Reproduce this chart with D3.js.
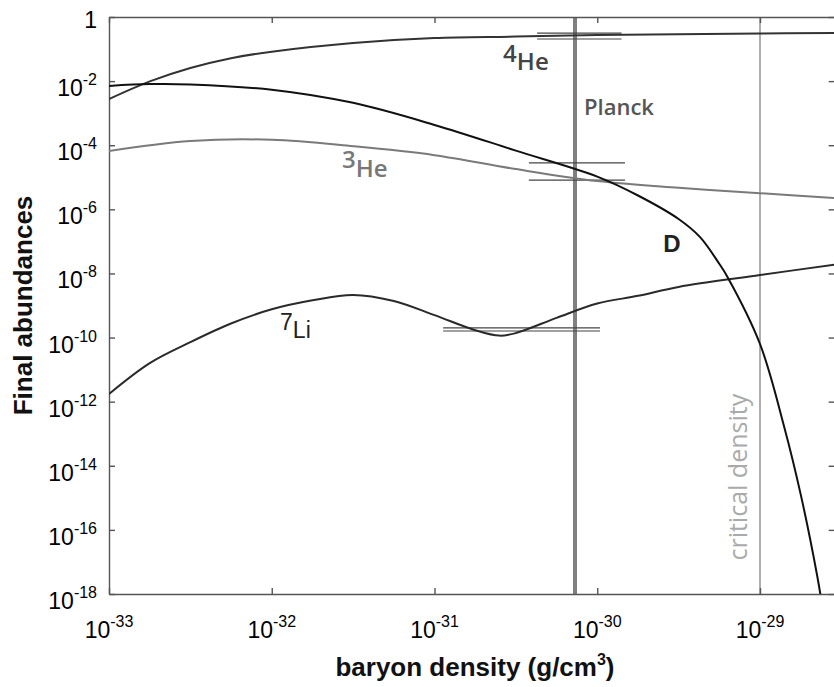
<!DOCTYPE html>
<html>
<head>
<meta charset="utf-8">
<script src="https://cdn.jsdelivr.net/npm/d3@7"></script>
<style>
  body { margin: 0; background: #fff; }
  svg { display: block; }
</style>
</head>
<body>
<svg id="chart" width="834" height="687"></svg>
<script>
'use strict';

// series: [baryon density g/cm^3, final abundance]
const he4 = [[1e-33, 2.75e-3], [1.78e-33, 9.8e-3], [3.16e-33, 2.57e-2], [5.62e-33, 5.2e-2],
  [1e-32, 8.3e-2], [3.16e-32, 0.155], [1e-31, 0.221], [3.16e-31, 0.245], [1e-30, 0.275],
  [1e-29, 0.305], [3e-29, 0.316]];
const deut = [[1e-33, 7.1e-3], [1.78e-33, 8.1e-3], [3.16e-33, 7.9e-3], [1e-32, 5.4e-3],
  [3.16e-32, 2.1e-3], [1e-31, 4.3e-4], [3.16e-31, 6.8e-5], [1e-30, 1.05e-5], [1.78e-30, 2.7e-6],
  [3.16e-30, 5e-7], [4.27e-30, 1.38e-7], [5.62e-30, 2e-8], [6.3e-30, 7.9e-9], [1e-29, 6.3e-11],
  [1.41e-29, 1.6e-13], [1.78e-29, 1.26e-15], [2.24e-29, 4e-18], [2.4e-29, 5e-19]];
const he3 = [[1e-33, 6.6e-5], [3.16e-33, 1.35e-4], [1e-32, 1.48e-4], [3.16e-32, 9.3e-5],
  [1e-31, 4.9e-5], [3.16e-31, 1.8e-5], [1e-30, 7.6e-6], [3.16e-30, 4.7e-6], [1e-29, 3.2e-6],
  [3e-29, 2.2e-6]];
const li7 = [[1e-33, 1.74e-12], [1.78e-33, 1.6e-11], [3.16e-33, 7.2e-11], [5.62e-33, 2.75e-10],
  [1e-32, 7.6e-10], [1.78e-32, 1.45e-9], [3.16e-32, 2.14e-9], [5.62e-32, 1.38e-9], [1e-31, 5e-10],
  [1.78e-31, 1.7e-10], [2.5e-31, 1.15e-10], [3.16e-31, 1.38e-10], [5.62e-31, 4.1e-10],
  [1e-30, 1.15e-9], [1.78e-30, 2e-9], [3.16e-30, 3.8e-9], [1e-29, 8.9e-9], [3e-29, 1.95e-8]];

// observed bounds: [density from, density to, abundance]
const obsBounds = [
  [4.27e-31, 1.41e-30, 0.316], [4.27e-31, 1.41e-30, 0.206],
  [3.8e-31, 1.48e-30, 2.8e-5], [3.8e-31, 1.48e-30, 8.2e-6],
  [1.13e-31, 1.04e-30, 2.0e-10], [1.13e-31, 1.04e-30, 1.6e-10]
];
const planckDensity = 7.3e-31;
const criticalDensity = 1e-29;

const xTicks = [1e-33, 1e-32, 1e-31, 1e-30, 1e-29];
const xTickExps = ["-33", "-32", "-31", "-30", "-29"];
const yTicks = [1, 1e-2, 1e-4, 1e-6, 1e-8, 1e-10, 1e-12, 1e-14, 1e-16, 1e-18];
const yTickExps = ["", "-2", "-4", "-6", "-8", "-10", "-12", "-14", "-16", "-18"];

const svg = d3.select("#chart");
const plotLeft = 109, plotTop = 17, plotBottom = 594;
const decade = 162.75;

const x = d3.scaleLog().domain([1e-33, 3e-29])
  .range([plotLeft, plotLeft + decade * Math.log10(3e-29 / 1e-33)]);
const y = d3.scaleLog().domain([1e-18, 1]).range([plotBottom, plotTop]);
const plotRight = x.range()[1];

svg.append("rect").attr("width", 834).attr("height", 687).attr("fill", "#fff");

svg.append("clipPath").attr("id", "plot")
  .append("rect").attr("x", plotLeft).attr("y", plotTop)
  .attr("width", plotRight - plotLeft).attr("height", plotBottom - plotTop);

// reference lines
svg.append("line")
  .attr("x1", x(planckDensity)).attr("x2", x(planckDensity))
  .attr("y1", plotTop).attr("y2", plotBottom)
  .attr("stroke", "#808080").attr("stroke-width", 4);
svg.append("line")
  .attr("x1", x(criticalDensity)).attr("x2", x(criticalDensity))
  .attr("y1", plotTop).attr("y2", plotBottom)
  .attr("stroke", "#9a9a9a").attr("stroke-width", 1.6);

// axes (ticks inward, box style)
const fmt = () => "";
const axisStyle = (g) => {
  g.selectAll("path, line").attr("stroke", "#555").attr("stroke-width", 1.4);
  g.selectAll("text").remove();
};
svg.append("g").attr("transform", `translate(0,${plotBottom})`)
  .call(d3.axisBottom(x).tickValues(xTicks).tickFormat(fmt).tickSizeInner(-6).tickSizeOuter(0))
  .call(axisStyle);
svg.append("g").attr("transform", `translate(0,${plotTop})`)
  .call(d3.axisTop(x).tickValues(xTicks).tickFormat(fmt).tickSizeInner(-6).tickSizeOuter(0))
  .call(axisStyle);
svg.append("g").attr("transform", `translate(${plotLeft},0)`)
  .call(d3.axisLeft(y).tickValues(yTicks).tickFormat(fmt).tickSizeInner(-6).tickSizeOuter(0))
  .call(axisStyle);
svg.append("g").attr("transform", `translate(${plotRight - 3},0)`)
  .call(d3.axisRight(y).tickValues(yTicks).tickFormat(fmt).tickSizeInner(-6).tickSizeOuter(0))
  .call(axisStyle);

// observed bound bars
svg.append("g").selectAll("line").data(obsBounds).join("line")
  .attr("x1", d => x(d[0])).attr("x2", d => x(d[1]))
  .attr("y1", d => y(d[2])).attr("y2", d => y(d[2]))
  .attr("stroke", "#444").attr("stroke-width", 1.2);

// curves
const line = d3.line().x(d => x(d[0])).y(d => y(d[1])).curve(d3.curveCatmullRom.alpha(0.5));
const curves = svg.append("g").attr("clip-path", "url(#plot)").attr("fill", "none");
curves.append("path").attr("d", line(he3)).attr("stroke", "#7a7a7a").attr("stroke-width", 2);
curves.append("path").attr("d", line(he4)).attr("stroke", "#333").attr("stroke-width", 2);
curves.append("path").attr("d", line(li7)).attr("stroke", "#2a2a2a").attr("stroke-width", 2);
curves.append("path").attr("d", line(deut)).attr("stroke", "#111").attr("stroke-width", 2);

// tick labels
const numFont = "'Liberation Sans', Arial, sans-serif";
const xl = svg.append("g").attr("font-family", numFont).attr("fill", "#000");
xTicks.forEach((t, i) => {
  const txt = xl.append("text").attr("x", x(t)).attr("y", 638)
    .attr("text-anchor", "middle").attr("font-size", 23);
  txt.append("tspan").text("10");
  txt.append("tspan").attr("dy", -11).attr("font-size", 16).text(xTickExps[i]);
});
yTicks.forEach((t, i) => {
  if (yTickExps[i] === "") {
    xl.append("text").attr("x", 97).attr("y", y(t) + 11)
      .attr("text-anchor", "end").attr("font-size", 23).text("1");
    return;
  }
  const txt = xl.append("text").attr("x", 97).attr("y", y(t) + 15)
    .attr("text-anchor", "end").attr("font-size", 23);
  txt.append("tspan").text("10");
  txt.append("tspan").attr("dy", -11).attr("font-size", 16).text(yTickExps[i]);
});

// axis titles
svg.append("text")
  .attr("transform", `translate(32,${(plotTop + plotBottom) / 2}) rotate(-90)`)
  .attr("text-anchor", "middle").attr("font-family", numFont)
  .attr("font-weight", "bold").attr("font-size", 26).attr("fill", "#111")
  .text("Final abundances");
const xt = svg.append("text").attr("x", 475).attr("y", 676)
  .attr("text-anchor", "middle").attr("font-family", numFont)
  .attr("font-weight", "bold").attr("font-size", 26).attr("fill", "#111");
xt.append("tspan").text("baryon density (g/cm");
xt.append("tspan").attr("dy", -11).attr("font-size", 16).text("3");
xt.append("tspan").attr("dy", 11).text(")");

// curve annotations
const labFont = "'Open Sans', sans-serif";
const he4Lab = svg.append("text").attr("x", x(2.64e-31)).attr("y", y(0.022))
  .attr("font-family", labFont).attr("font-weight", 600).attr("font-size", 24).attr("fill", "#444");
he4Lab.append("tspan").attr("dy", -8).text("4");
he4Lab.append("tspan").attr("dy", 8).text("He");

const he3Lab = svg.append("text").attr("x", x(2.7e-32)).attr("y", y(1.02e-5))
  .attr("font-family", labFont).attr("font-weight", 600).attr("font-size", 24).attr("fill", "#777");
he3Lab.append("tspan").attr("dy", -9).text("3");
he3Lab.append("tspan").attr("dy", 9).text("He");

const li7Lab = svg.append("text").attr("x", x(1.125e-32)).attr("y", y(9.6e-11))
  .attr("font-family", numFont).attr("font-size", 23).attr("fill", "#222");
li7Lab.append("tspan").attr("dy", -8).text("7");
li7Lab.append("tspan").attr("dy", 8).text("Li");

svg.append("text").attr("x", x(2.54e-30)).attr("y", y(4.65e-8))
  .attr("font-family", numFont).attr("font-weight", "bold").attr("font-size", 24)
  .attr("fill", "#222").text("D");

svg.append("text").attr("x", x(planckDensity) + 9).attr("y", y(8.75e-4))
  .attr("font-family", labFont).attr("font-weight", 600).attr("font-size", 22)
  .attr("fill", "#555").text("Planck");

svg.append("text")
  .attr("transform", `translate(${x(criticalDensity) - 13},${y(4.4e-15)}) rotate(-90)`)
  .attr("text-anchor", "middle").attr("font-family", labFont).attr("font-size", 25)
  .attr("fill", "#aaa").text("critical density");
</script>
</body>
</html>
